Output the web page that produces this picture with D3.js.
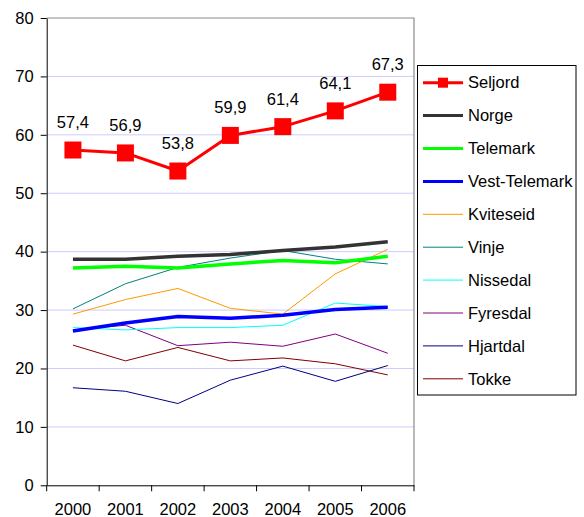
<!DOCTYPE html>
<html>
<head>
<meta charset="utf-8">
<script src="https://cdn.jsdelivr.net/npm/d3@7"></script>
<style>
	body { margin: 0; background: #fff; }
	svg { font-family: Arial, "Liberation Sans", sans-serif; }
</style>
</head>
<body>
<div id="chart"></div>
<script>
// years on the x axis
const years = ["2000", "2001", "2002", "2003", "2004", "2005", "2006"];
const yTicks = [0, 10, 20, 30, 40, 50, 60, 70, 80];

// series values
const seljord = [57.4, 56.9, 53.8, 59.9, 61.4, 64.1, 67.3];
const norge = [38.7, 38.7, 39.2, 39.5, 40.2, 40.8, 41.7];
const telemark = [37.2, 37.5, 37.2, 37.9, 38.5, 38.1, 39.2];
const vestTelemark = [26.4, 27.8, 28.9, 28.6, 29.1, 30.1, 30.5];
const kviteseid = [29.3, 31.8, 33.7, 30.3, 29.3, 36.2, 40.4];
const vinje = [30.2, 34.5, 37.3, 38.9, 40.2, 38.7, 37.9];
const nissedal = [27.0, 26.6, 27.0, 27.0, 27.4, 31.2, 30.6];
const fyresdal = [26.6, 27.4, 23.9, 24.5, 23.8, 25.9, 22.6];
const hjartdal = [16.7, 16.1, 14.0, 18.0, 20.4, 17.8, 20.5];
const tokke = [24.0, 21.3, 23.6, 21.3, 21.8, 20.8, 18.9];

const seriesNames = ["Seljord", "Norge", "Telemark", "Vest-Telemark", "Kviteseid",
	"Vinje", "Nissedal", "Fyresdal", "Hjartdal", "Tokke"];
const seriesValues = [seljord, norge, telemark, vestTelemark, kviteseid,
	vinje, nissedal, fyresdal, hjartdal, tokke];
const seriesColors = ["#ff0000", "#333333", "#00ff00", "#0000ff", "#ff9900",
	"#008080", "#00ffff", "#800080", "#000080", "#800000"];
const seriesWidths = [3, 3.5, 3.5, 3.5, 1, 1, 1, 1, 1, 1];

const series = seriesNames.map((name, i) => ({
	name: name,
	color: seriesColors[i],
	width: seriesWidths[i],
	values: seriesValues[i].map((v, j) => ({ year: years[j], value: v }))
}));

const W = 584, H = 517;
const fs = 16.5;
const plot = { left: 46.7, right: 414, top: 18, bottom: 485.3 };

const svg = d3.select("#chart").append("svg")
	.attr("width", W)
	.attr("height", H);

const x = d3.scaleBand().domain(years).range([plot.left, plot.right]);
const y = d3.scaleLinear().domain([0, 80]).range([plot.bottom, plot.top]);

// grid lines
svg.append("g")
	.selectAll("line")
	.data(yTicks.filter(d => d > 0 && d < 80))
	.enter().append("line")
	.attr("x1", plot.left).attr("x2", plot.right)
	.attr("y1", d => y(d)).attr("y2", d => y(d))
	.attr("stroke", "#ccccff")
	.attr("stroke-width", 1);

// plot area border, top and right
svg.append("path")
	.attr("d", `M${plot.left},${y(80)}H${plot.right}V${plot.bottom}`)
	.attr("fill", "none")
	.attr("stroke", "#8c8c8c")
	.attr("stroke-width", 1.2);

// y axis
const yAxis = svg.append("g")
	.attr("transform", `translate(${plot.left},0)`)
	.call(d3.axisLeft(y).tickValues(yTicks).tickSize(6).tickPadding(7).tickSizeOuter(0));
yAxis.selectAll("text").attr("font-size", fs).attr("fill", "#000");
yAxis.selectAll("line, path").attr("stroke", "#000");
yAxis.attr("font-family", null);

// x axis labels
const xAxis = svg.append("g")
	.attr("transform", `translate(0,${plot.bottom})`)
	.call(d3.axisBottom(x).tickSize(0).tickPadding(18).tickSizeOuter(0));
xAxis.selectAll("text").attr("font-size", fs).attr("fill", "#000");
xAxis.select(".domain").attr("stroke", "#000");
xAxis.attr("font-family", null);

// x ticks on the band boundaries
const boundaries = years.map(d => x(d)).concat([x(years[years.length - 1]) + x.bandwidth()]);
xAxis.selectAll(".bound")
	.data(boundaries)
	.enter().append("line")
	.attr("class", "bound")
	.attr("x1", d => d).attr("x2", d => d)
	.attr("y1", 0).attr("y2", 6)
	.attr("stroke", "#000");

const line = d3.line()
	.x(d => x(d.year) + x.bandwidth() / 2)
	.y(d => y(d.value));

// draw from the thin lines up to Seljord on top
const drawOrder = series.slice().reverse();
svg.append("g")
	.selectAll("path")
	.data(drawOrder)
	.enter().append("path")
	.attr("d", d => line(d.values))
	.attr("fill", "none")
	.attr("stroke", d => d.color)
	.attr("stroke-width", d => d.width)
	.attr("stroke-linejoin", "round");

// Seljord markers and labels
const sq = 17;
svg.append("g")
	.selectAll("rect")
	.data(series[0].values)
	.enter().append("rect")
	.attr("x", d => x(d.year) + x.bandwidth() / 2 - sq / 2)
	.attr("y", d => y(d.value) - sq / 2)
	.attr("width", sq)
	.attr("height", sq)
	.attr("fill", "#ff0000");

svg.append("g")
	.selectAll("text")
	.data(series[0].values)
	.enter().append("text")
	.attr("x", d => x(d.year) + x.bandwidth() / 2)
	.attr("y", d => y(d.value) - 22)
	.attr("text-anchor", "middle")
	.attr("font-size", fs)
	.text(d => d.value.toFixed(1).replace(".", ","));

// legend
const legend = svg.append("g");
legend.append("rect")
	.attr("x", 417.5).attr("y", 65.5)
	.attr("width", 158.5).attr("height", 329.5)
	.attr("fill", "#fff")
	.attr("stroke", "#000")
	.attr("stroke-width", 1);

const rowY = i => 82.7 + i * 32.9;
const items = legend.selectAll(".item")
	.data(series)
	.enter().append("g")
	.attr("class", "item")
	.attr("transform", (d, i) => `translate(0,${rowY(i)})`);

items.append("line")
	.attr("x1", 423).attr("x2", 463)
	.attr("y1", 0).attr("y2", 0)
	.attr("stroke", d => d.color)
	.attr("stroke-width", d => d.width > 1 ? 3 : 1);

items.filter((d, i) => i === 0).append("rect")
	.attr("x", 438).attr("y", -5)
	.attr("width", 10).attr("height", 10)
	.attr("fill", "#ff0000");

items.append("text")
	.attr("x", 468)
	.attr("y", 0)
	.attr("dy", "0.35em")
	.attr("font-size", fs)
	.text(d => d.name);
</script>
</body>
</html>
